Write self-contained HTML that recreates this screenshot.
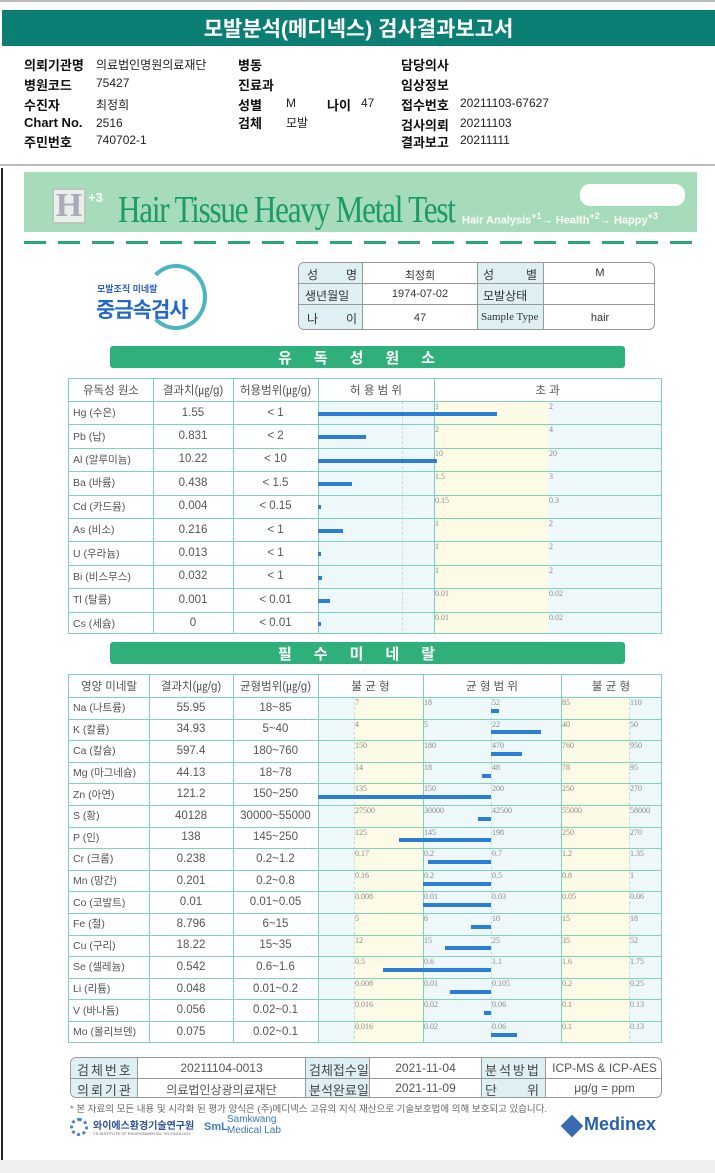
<!DOCTYPE html>
<html><head><meta charset="utf-8">
<style>
*{box-sizing:border-box;margin:0;padding:0}
body{width:715px;height:1173px;position:relative;background:#fff;font-family:"Liberation Sans","Noto Sans CJK KR",sans-serif;overflow:hidden;color:#222}
.a{position:absolute}
.hk{font-weight:bold;font-size:13px;color:#111}
.hv{font-size:12px;color:#222}
.cell{position:absolute;display:flex;align-items:center;justify-content:center;font-size:11.5px;color:#555;white-space:nowrap}
.tick{position:absolute;font-family:"Liberation Serif",serif;font-size:8px;color:#888}
.bar{position:absolute;background:#2a7fd4;height:4px}
.vl{position:absolute;width:1px}
.hl{position:absolute;height:1px;background:#7fd3bd}
</style></head><body>
<div class="a" style="left:0;top:0;width:715px;height:2px;background:#bbb"></div>
<div class="a" style="left:2px;top:10px;width:713px;height:36px;background:#0b7f74;color:#fff;font-size:21px;font-weight:bold;display:flex;align-items:center;justify-content:center">모발분석(메디넥스) 검사결과보고서</div>

<div>
<div class="a hk" style="left:24px;top:55px">의뢰기관명</div><div class="a hv" style="left:96px;top:56px">의료법인명원의료재단</div>
<div class="a hk" style="left:24px;top:75px">병원코드</div><div class="a hv" style="left:96px;top:76px">75427</div>
<div class="a hk" style="left:24px;top:95px">수진자</div><div class="a hv" style="left:96px;top:96px">최정희</div>
<div class="a hk" style="left:24px;top:115px">Chart No.</div><div class="a hv" style="left:96px;top:116px">2516</div>
<div class="a hk" style="left:24px;top:132px">주민번호</div><div class="a hv" style="left:96px;top:133px">740702-1</div>
<div class="a hk" style="left:238px;top:55px">병동</div>
<div class="a hk" style="left:238px;top:75px">진료과</div>
<div class="a hk" style="left:238px;top:95px">성별</div><div class="a hv" style="left:286px;top:96px">M</div>
<div class="a hk" style="left:327px;top:95px">나이</div><div class="a hv" style="left:361px;top:96px">47</div>
<div class="a hk" style="left:238px;top:113px">검체</div><div class="a hv" style="left:286px;top:114px">모발</div>
<div class="a hk" style="left:401px;top:55px">담당의사</div>
<div class="a hk" style="left:401px;top:75px">임상정보</div>
<div class="a hk" style="left:401px;top:95px">접수번호</div><div class="a hv" style="left:460px;top:96px">20211103-67627</div>
<div class="a hk" style="left:401px;top:115px">검사의뢰</div><div class="a hv" style="left:460px;top:116px">20211103</div>
<div class="a hk" style="left:401px;top:132px">결과보고</div><div class="a hv" style="left:460px;top:133px">20211111</div>
</div>
<div class="a" style="left:0;top:164px;width:715px;height:2px;background:#bbb"></div>
<div class="a" style="left:1px;top:168px;width:2px;height:992px;background:#222"></div>
<div class="a" style="left:0;top:1160px;width:715px;height:13px;background:#f0f0f0"></div>

<!-- banner -->
<div class="a" style="left:24px;top:172px;width:673px;height:60px;background:#a6dcb9"></div>
<div class="a" style="left:52px;top:188px;width:34px;height:36px;background:#e8eee8;border:2px solid #b8c8bc;font:bold 34px 'Liberation Serif',serif;color:#aab;line-height:32px;text-align:center">H</div>
<div class="a" style="left:88px;top:190px;font:bold 13px 'Liberation Sans',sans-serif;color:#fff">+3</div>
<div class="a" style="left:118px;top:188px;font:38px 'Liberation Serif',serif;color:#1c9a6a;letter-spacing:-1.5px;transform:scaleX(0.82);transform-origin:left top;white-space:nowrap">Hair Tissue Heavy Metal Test</div>
<div class="a" style="left:462px;top:211px;font:bold 11px 'Liberation Sans',sans-serif;color:#fff;white-space:nowrap">Hair Analysis<sup>+1</sup>→ Health<sup>+2</sup>→ Happy<sup>+3</sup></div>
<div class="a" style="left:580px;top:184px;width:105px;height:22px;background:#fff;border-radius:10px"></div>
<div class="a" style="left:24px;top:241px;width:673px;height:3px;background:repeating-linear-gradient(90deg,#2aa873 0 22px,transparent 22px 34px)"></div>

<!-- logo -->
<div class="a" style="left:145px;top:264px;width:62px;height:66px;border:4px solid #4bb5c0;border-left-color:transparent;border-bottom-color:#4bb5c0;border-radius:50%"></div>
<div class="a" style="left:97px;top:282px;font-size:9px;color:#2b5fb8;font-weight:bold">모발조직 미네랄</div>
<div class="a" style="left:96px;top:294px;font-size:21px;color:#2468c8;font-weight:bold;letter-spacing:-1px">중금속검사</div>

<!-- info table -->
<div class="a" style="left:298px;top:262px;width:357px;height:68px;border:1px solid #999;border-radius:6px;overflow:hidden;font-size:11px;color:#333">
 <div class="a" style="left:0;top:0;width:63px;height:68px;background:#dff0f5"></div>
 <div class="a" style="left:178px;top:0;width:66px;height:68px;background:#dff0f5"></div>
 <div class="a" style="left:63px;top:0;width:1px;height:68px;background:#999"></div>
 <div class="a" style="left:178px;top:0;width:1px;height:68px;background:#999"></div>
 <div class="a" style="left:244px;top:0;width:1px;height:68px;background:#999"></div>
 <div class="a" style="left:0;top:20px;width:357px;height:1px;background:#999"></div>
 <div class="a" style="left:0;top:41px;width:357px;height:1px;background:#999"></div>
 <div class="a" style="left:8px;top:3px;font-size:12px;width:50px;display:flex;justify-content:space-between"><span>성</span><span>명</span></div>
 <div class="a" style="left:64px;top:4px;width:114px;text-align:center">최정희</div>
 <div class="a" style="left:184px;top:3px;font-size:12px;width:54px;display:flex;justify-content:space-between"><span>성</span><span>별</span></div>
 <div class="a" style="left:245px;top:4px;width:112px;text-align:center">M</div>
 <div class="a" style="left:6px;top:24px;font-size:12px">생년월일</div>
 <div class="a" style="left:64px;top:25px;width:114px;text-align:center">1974-07-02</div>
 <div class="a" style="left:184px;top:24px;font-size:12px">모발상태</div>
 <div class="a" style="left:8px;top:47px;font-size:12px;width:50px;display:flex;justify-content:space-between"><span>나</span><span>이</span></div>
 <div class="a" style="left:64px;top:49px;width:114px;text-align:center">47</div>
 <div class="a" style="left:182px;top:48px;font:11px 'Liberation Serif',serif">Sample Type</div>
 <div class="a" style="left:245px;top:49px;width:112px;text-align:center">hair</div>
</div>

<div class="a" style="left:110px;top:346px;width:515px;height:22px;background:#2fb07a;border-radius:3px;color:#fff;font-size:15px;font-weight:bold;display:flex;align-items:center;justify-content:center;letter-spacing:22px">유독성원소</div>
<div id="toxic" class="a" style="left:68px;top:378px;width:594px;height:256px;border:1px solid #7fd3bd;overflow:hidden"></div>

<div class="a" style="left:110px;top:642px;width:515px;height:22px;background:#2fb07a;border-radius:3px;color:#fff;font-size:15px;font-weight:bold;display:flex;align-items:center;justify-content:center;letter-spacing:22px">필수미네랄</div>
<div id="mineral" class="a" style="left:68px;top:674px;width:594px;height:369px;border:1px solid #7fd3bd;overflow:hidden"></div>

<!-- bottom table -->
<div class="a" style="left:70px;top:1057px;width:592px;height:41px;border:1px solid #999;border-radius:6px;overflow:hidden;font-size:12px;color:#555">
 <div class="a" style="left:0;top:0;width:66px;height:41px;background:#dff0f5"></div>
 <div class="a" style="left:234px;top:0;width:64px;height:41px;background:#dff0f5"></div>
 <div class="a" style="left:410px;top:0;width:64px;height:41px;background:#dff0f5"></div>
 <div class="a" style="left:0;top:20px;width:592px;height:1px;background:#999"></div>
 <div class="a" style="left:66px;top:0;width:1px;height:41px;background:#999"></div>
 <div class="a" style="left:234px;top:0;width:1px;height:41px;background:#999"></div>
 <div class="a" style="left:298px;top:0;width:1px;height:41px;background:#999"></div>
 <div class="a" style="left:410px;top:0;width:1px;height:41px;background:#999"></div>
 <div class="a" style="left:474px;top:0;width:1px;height:41px;background:#999"></div>
 <div class="a" style="left:6px;top:2px;font-size:13px;color:#444;letter-spacing:2px">검체번호</div>
 <div class="a" style="left:67px;top:3px;width:167px;text-align:center">20211104-0013</div>
 <div class="a" style="left:238px;top:2px;font-size:13px;color:#444">검체접수일</div>
 <div class="a" style="left:299px;top:3px;width:111px;text-align:center">2021-11-04</div>
 <div class="a" style="left:414px;top:2px;font-size:13px;color:#444;letter-spacing:2px">분석방법</div>
 <div class="a" style="left:475px;top:3px;width:117px;text-align:center">ICP-MS &amp; ICP-AES</div>
 <div class="a" style="left:6px;top:22px;font-size:13px;color:#444;letter-spacing:2px">의뢰기관</div>
 <div class="a" style="left:67px;top:23px;width:167px;text-align:center">의료법인상광의료재단</div>
 <div class="a" style="left:238px;top:22px;font-size:13px;color:#444">분석완료일</div>
 <div class="a" style="left:299px;top:23px;width:111px;text-align:center">2021-11-09</div>
 <div class="a" style="left:414px;top:22px;font-size:13px;color:#444;width:54px;display:flex;justify-content:space-between"><span>단</span><span>위</span></div>
 <div class="a" style="left:475px;top:23px;width:117px;text-align:center">μg/g = ppm</div>
</div>
<div class="a" style="left:70px;top:1101px;font-size:9.5px;color:#666;white-space:nowrap">* 본 자료의 모든 내용 및 시각화 된 평가 양식은 (주)메디넥스 고유의 지식 재산으로 기술보호법에 의해 보호되고 있습니다.</div>
<div class="a" style="left:70px;top:1118px;width:18px;height:18px;border-radius:50%;border:3px dotted #4a7fd0"></div>
<div class="a" style="left:93px;top:1117px;font-size:10px;color:#2c4f9a;font-weight:bold">와이에스환경기술연구원</div>
<div class="a" style="left:93px;top:1131px;font-size:4px;color:#666">YS INSTITUTE OF ENVIRONMENTAL TECHNOLOGY</div>
<div class="a" style="left:204px;top:1121px;font-size:11px;color:#3a7ab8;font-weight:bold">SmL</div>
<div class="a" style="left:227px;top:1114px;font-size:10px;color:#3a7ab8;line-height:11px">Samkwang<br>Medical Lab</div>
<div class="a" style="left:564px;top:1118px;width:16px;height:16px;background:#3a6ab0;transform:rotate(45deg)"></div>
<div class="a" style="left:584px;top:1114px;font-size:18px;font-weight:bold;color:#2b5fa8">Medinex</div>

<script>
// ---- toxic data ----
const toxNames=["Hg (수은)","Pb (납)","Al (알루미늄)","Ba (바륨)","Cd (카드뮴)","As (비소)","U (우라늄)","Bi (비스무스)","Tl (탈륨)","Cs (세슘)"];
const toxValues=[1.55,0.831,10.22,0.438,0.004,0.216,0.013,0.032,0.001,0];
const toxValueLabels=["1.55","0.831","10.22","0.438","0.004","0.216","0.013","0.032","0.001","0"];
const toxRanges=["< 1","< 2","< 10","< 1.5","< 0.15","< 1","< 1","< 1","< 0.01","< 0.01"];
const toxLimits=[1,2,10,1.5,0.15,1,1,1,0.01,0.01];
const toxLimitLabels=["1","2","10","1.5","0.15","1","1","1","0.01","0.01"];
const toxDoubleLabels=["2","4","20","3","0.3","2","2","2","0.02","0.02"];
// ---- mineral data ----
const minNames=["Na (나트륨)","K (칼륨)","Ca (칼슘)","Mg (마그네슘)","Zn (아연)","S (황)","P (인)","Cr (크롬)","Mn (망간)","Co (코발트)","Fe (철)","Cu (구리)","Se (셀레늄)","Li (리튬)","V (바나듐)","Mo (몰리브덴)"];
const minValues=[55.95,34.93,597.4,44.13,121.2,40128,138,0.238,0.201,0.01,8.796,18.22,0.542,0.048,0.056,0.075];
const minValueLabels=["55.95","34.93","597.4","44.13","121.2","40128","138","0.238","0.201","0.01","8.796","18.22","0.542","0.048","0.056","0.075"];
const minRanges=["18~85","5~40","180~760","18~78","150~250","30000~55000","145~250","0.2~1.2","0.2~0.8","0.01~0.05","6~15","15~35","0.6~1.6","0.01~0.2","0.02~0.1","0.02~0.1"];
const minTicks=[[7,18,52,85,110],[4,5,22,40,50],[150,180,470,760,950],[14,18,48,78,95],[135,150,200,250,270],[27500,30000,42500,55000,58000],[125,145,198,250,270],[0.17,0.2,0.7,1.2,1.35],[0.16,0.2,0.5,0.8,1],[0.008,0.01,0.03,0.05,0.06],[5,6,10,15,18],[12,15,25,35,52],[0.5,0.6,1.1,1.6,1.75],[0.008,0.01,0.105,0.2,0.25],[0.016,0.02,0.06,0.1,0.13],[0.016,0.02,0.06,0.1,0.13]];

function mk(parent,cls,style,text){const d=document.createElement('div');d.className=cls;Object.assign(d.style,style);if(text!==undefined)d.textContent=text;parent.appendChild(d);return d;}

// toxic table
(function(){
 const T=document.getElementById('toxic');
 const hH=22,rH=23.4,X0=249,X1=365,X2=479,X3=592;
 mk(T,'a',{left:X0+'px',top:'0',width:(X1-X0)+'px',height:'256px',background:'#eef8fb'});
 for(let i=0;i<10;i++){mk(T,'a',{left:X1+'px',top:(hH+i*rH)+'px',width:(X2-X1)+'px',height:rH+'px',background:'#fdfbe6'});mk(T,'a',{left:X2+'px',top:(hH+i*rH)+'px',width:(X3-X2)+'px',height:rH+'px',background:'#eef8fb'});}
 mk(T,'a',{left:0,top:0,width:'592px',height:hH+'px',background:'#fff'});
 [84,164,249,X1].forEach(x=>mk(T,'vl',{left:x+'px',top:'0',height:'256px',background:'#7fd3bd'}));
 [X0+(X1-X0)*0.72].forEach(x=>mk(T,'vl',{left:x+'px',top:hH+'px',height:(256-hH)+'px',borderLeft:'1px dashed #bde3d6'}));
 const hs=[["유독성 원소",0,84],["결과치(㎍/g)",84,164],["허용범위(㎍/g)",164,249],["허 용 범 위",249,X1],["초          과",X1,X3]];
 hs.forEach(h=>mk(T,'cell',{left:h[1]+'px',top:'0',width:(h[2]-h[1])+'px',height:hH+'px'},h[0]));
 for(let i=0;i<10;i++){
  const y=hH+i*rH;
  mk(T,'hl',{left:0,top:y+'px',width:'592px'});
  const n=mk(T,'cell',{left:'4px',top:y+'px',width:'80px',height:rH+'px',justifyContent:'flex-start',fontSize:'10.5px'},toxNames[i]);
  
  
  mk(T,'cell',{left:'84px',top:y+'px',width:'80px',height:rH+'px'},toxValueLabels[i]);
  mk(T,'cell',{left:'164px',top:y+'px',width:'85px',height:rH+'px'},toxRanges[i]);
  mk(T,'tick',{left:(X1+1)+'px',top:(y+1)+'px'},toxLimitLabels[i]);
  mk(T,'tick',{left:(X2+1)+'px',top:(y+1)+'px'},toxDoubleLabels[i]);
  const r=toxValues[i]/toxLimits[i];
  let x= r<=1 ? X0+r*(X1-X0) : X1+(r-1)*(X2-X1);
  x=Math.min(x,X3);
  const b=mk(T,'bar',{left:X0+'px',top:(y+rH/2-1)+'px',width:Math.max(3,x-X0)+'px'});
  
  
 }
})();

// mineral table
(function(){
 const T=document.getElementById('mineral');
 const hH=22,rH=21.6,C0=249;
 const TX=[285,354,422,492,560];
 const XE=592;
 for(let i=0;i<16;i++){
  const y=hH+i*rH;
  mk(T,'a',{left:C0+'px',top:y+'px',width:(TX[0]-C0)+'px',height:rH+'px',background:'#eef8fb'});
  mk(T,'a',{left:TX[0]+'px',top:y+'px',width:(TX[1]-TX[0])+'px',height:rH+'px',background:'#fdfbe6'});
  mk(T,'a',{left:TX[1]+'px',top:y+'px',width:(TX[3]-TX[1])+'px',height:rH+'px',background:'#eef8fb'});
  mk(T,'a',{left:TX[3]+'px',top:y+'px',width:(TX[4]-TX[3])+'px',height:rH+'px',background:'#fdfbe6'});
  mk(T,'a',{left:TX[4]+'px',top:y+'px',width:(XE-TX[4])+'px',height:rH+'px',background:'#eef8fb'});
 }
 [80,164,C0,TX[1],TX[3]].forEach(x=>mk(T,'vl',{left:x+'px',top:'0',height:'369px',background:'#7fd3bd'}));
 [TX[0],TX[2],TX[4]].forEach(x=>mk(T,'vl',{left:x+'px',top:hH+'px',height:(369-hH)+'px',borderLeft:'1px dashed #bde3d6'}));
 const hs=[["영양 미네랄",0,80],["결과치(㎍/g)",80,164],["균형범위(㎍/g)",164,C0],["불  균  형",C0,TX[1]],["균  형  범  위",TX[1],TX[3]],["불  균  형",TX[3],XE]];
 hs.forEach(h=>mk(T,'cell',{left:h[1]+'px',top:'0',width:(h[2]-h[1])+'px',height:hH+'px',fontSize:'11.5px'},h[0]));
 for(let i=0;i<16;i++){
  const y=hH+i*rH;
  mk(T,'hl',{left:0,top:y+'px',width:'592px'});
  const n=mk(T,'cell',{left:'4px',top:y+'px',width:'76px',height:rH+'px',justifyContent:'flex-start',fontSize:'10.5px'},minNames[i]);
  
  
  mk(T,'cell',{left:'80px',top:y+'px',width:'84px',height:rH+'px'},minValueLabels[i]);
  mk(T,'cell',{left:'164px',top:y+'px',width:'85px',height:rH+'px'},minRanges[i]);
  const t=minTicks[i];
  t.forEach((v,k)=>mk(T,'tick',{left:(TX[k]+1)+'px',top:(y+1)+'px'},String(v)));
  const v=minValues[i];
  let x;
  if(v<=t[0]){x=TX[0]-(t[0]-v)/(t[1]-t[0])*(TX[1]-TX[0]);x=Math.max(x,C0);}
  else if(v>=t[4]){x=Math.min(XE,TX[4]+(v-t[4])/(t[4]-t[3])*(TX[4]-TX[3]));}
  else{for(let k=0;k<4;k++){if(v>=t[k]&&v<=t[k+1]){x=TX[k]+(v-t[k])/(t[k+1]-t[k])*(TX[k+1]-TX[k]);break;}}}
  const m=TX[2];
  const b=mk(T,'bar',{left:Math.min(x,m)+'px',top:(y+rH/2+1)+'px',width:Math.max(3,Math.abs(x-m))+'px'});
  
  
 }
})();
</script>
</body></html>
